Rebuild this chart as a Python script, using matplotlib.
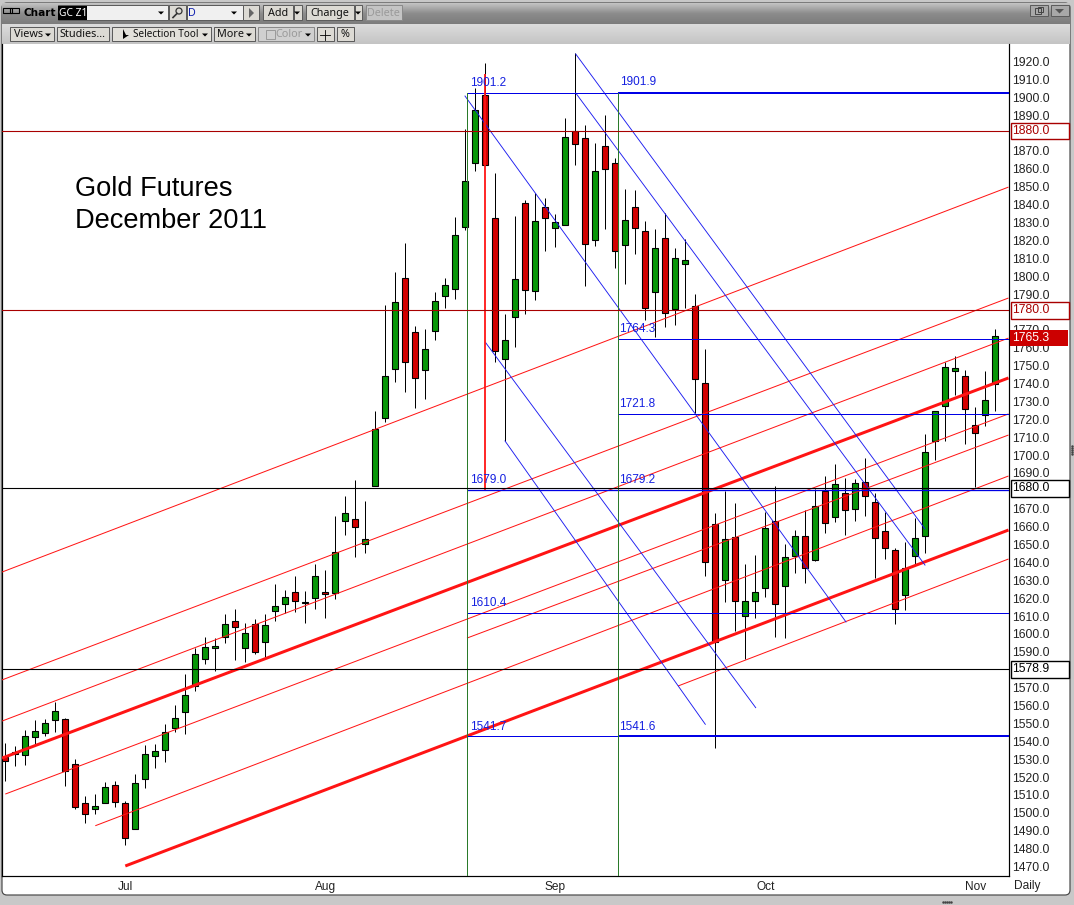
import matplotlib
matplotlib.use('Agg')
import matplotlib.pyplot as plt
from matplotlib.colors import LinearSegmentedColormap
from matplotlib.patches import Rectangle, FancyBboxPatch, Circle
import numpy as np

plt.rcParams['font.family'] = ['Liberation Sans', 'DejaVu Sans']

# daily bars
highs = [1538.9, 1537.4, 1546.3, 1551.9, 1552.5, 1562.2, 1552.9, 1530.1, 1509.5, 1510.6,
         1517.3, 1517.8, 1506.7, 1521.8, 1538.0, 1538.5, 1549.7, 1560.3, 1577.6, 1592.0,
         1598.3, 1597.6, 1611.2, 1614.0, 1606.1, 1608.4, 1611.2, 1628.0, 1624.6, 1632.4,
         1624.0, 1639.1, 1635.8, 1666.0, 1677.1, 1686.1, 1674.4, 1724.7, 1783.9, 1802.3,
         1818.5, 1772.1, 1770.5, 1790.9, 1798.8, 1832.9, 1882.1, 1905.0, 1919.0, 1857.5,
         1778.7, 1833.6, 1842.6, 1846.3, 1843.5, 1834.7, 1888.2, 1924.5, 1884.3, 1874.4,
         1890.1, 1866.0, 1848.5, 1848.0, 1830.9, 1826.4, 1835.1, 1815.6, 1820.6, 1789.9,
         1759.3, 1667.7, 1680.0, 1673.1, 1639.0, 1644.1, 1668.3, 1682.6, 1650.2, 1658.0,
         1669.2, 1681.0, 1688.3, 1695.0, 1687.0, 1686.5, 1698.2, 1679.0, 1668.0, 1648.0,
         1651.2, 1664.7, 1711.6, 1724.4, 1752.2, 1755.4, 1747.6, 1726.9, 1746.8, 1770.5]
lows = [1518.0, 1526.4, 1526.8, 1538.5, 1543.0, 1545.2, 1515.2, 1502.4, 1494.6, 1499.6,
        1505.4, 1503.0, 1482.3, 1490.8, 1514.1, 1525.3, 1528.6, 1545.4, 1544.3, 1568.3,
        1583.0, 1579.1, 1595.2, 1585.5, 1584.3, 1588.6, 1587.0, 1607.5, 1611.6, 1612.0,
        1606.3, 1614.2, 1609.1, 1619.8, 1655.5, 1643.2, 1645.5, 1682.5, 1718.7, 1741.0,
        1735.4, 1726.5, 1731.5, 1764.5, 1782.4, 1787.4, 1825.6, 1859.0, 1862.0, 1752.2,
        1708.0, 1760.6, 1779.0, 1786.9, 1814.2, 1816.5, 1828.4, 1862.1, 1794.7, 1817.0,
        1826.5, 1804.7, 1795.8, 1812.4, 1775.5, 1766.2, 1771.8, 1772.7, 1782.0, 1723.4,
        1632.3, 1536.0, 1618.0, 1601.8, 1586.0, 1609.0, 1620.8, 1598.4, 1597.9, 1634.2,
        1628.6, 1641.0, 1656.6, 1662.8, 1655.4, 1663.3, 1666.2, 1631.1, 1642.1, 1605.5,
        1613.3, 1638.8, 1645.5, 1697.3, 1708.1, 1733.6, 1706.4, 1682.4, 1716.5, 1724.6]
opens = [1531.4, 1532.9, 1532.6, 1542.2, 1544.5, 1551.7, 1552.3, 1527.2, 1505.4, 1502.0,
         1505.4, 1515.4, 1505.4, 1490.8, 1518.8, 1531.6, 1535.0, 1547.3, 1556.2, 1570.7,
         1585.8, 1592.0, 1598.1, 1607.1, 1592.0, 1605.4, 1595.3, 1612.7, 1616.6, 1623.3,
         1617.2, 1620.0, 1623.3, 1623.1, 1663.0, 1664.1, 1650.1, 1682.5, 1720.5, 1747.9,
         1798.8, 1768.6, 1747.4, 1769.2, 1788.7, 1792.6, 1827.3, 1863.0, 1901.1, 1832.3,
         1753.5, 1777.0, 1840.7, 1791.5, 1838.5, 1826.7, 1828.4, 1881.0, 1877.0, 1820.0,
         1872.6, 1863.0, 1817.2, 1838.5, 1825.1, 1791.0, 1821.2, 1781.5, 1806.6, 1783.2,
         1740.1, 1661.2, 1629.9, 1654.0, 1609.8, 1618.7, 1625.5, 1663.3, 1626.9, 1643.5,
         1654.5, 1641.1, 1680.0, 1665.2, 1678.7, 1669.7, 1684.8, 1673.6, 1657.4, 1646.8,
         1621.6, 1643.6, 1654.6, 1707.7, 1727.3, 1746.8, 1744.0, 1716.8, 1722.2, 1739.6]
closes = [1529.2, 1534.2, 1542.8, 1545.6, 1550.1, 1556.8, 1523.2, 1503.5, 1499.2, 1503.7,
          1514.3, 1505.9, 1485.8, 1516.5, 1532.7, 1534.4, 1545.0, 1552.9, 1565.7, 1588.6,
          1592.5, 1593.1, 1605.4, 1603.7, 1600.4, 1589.8, 1604.8, 1615.5, 1620.5, 1618.3,
          1617.9, 1632.2, 1622.2, 1645.7, 1667.5, 1659.6, 1652.9, 1714.6, 1744.0, 1785.4,
          1751.8, 1742.9, 1759.1, 1785.9, 1794.9, 1822.8, 1853.0, 1892.7, 1862.0, 1758.0,
          1764.1, 1798.2, 1792.0, 1830.6, 1832.3, 1830.1, 1877.6, 1873.7, 1817.8, 1858.6,
          1859.7, 1813.9, 1831.2, 1826.8, 1782.0, 1815.6, 1779.3, 1810.0, 1808.9, 1742.4,
          1640.4, 1595.3, 1653.2, 1618.7, 1618.7, 1623.2, 1659.0, 1616.5, 1642.8, 1654.5,
          1636.6, 1671.8, 1661.9, 1683.7, 1669.2, 1684.2, 1677.0, 1653.5, 1647.9, 1613.7,
          1636.7, 1653.5, 1701.5, 1724.4, 1749.1, 1748.5, 1725.6, 1712.2, 1730.6, 1766.4]

price_ticks = list(range(1470, 1930, 10))
boxed_ticks = [1880, 1780, 1680, 1580]
month_bars = [12, 32, 55, 76, 97]
month_labels = ['Jul', 'Aug', 'Sep', 'Oct', 'Nov']

# horizontal levels with their boxes on the price scale
level_prices = [1881.0, 1780.9, 1681.4, 1580.2]
level_labels = ['1880.0', '1780.0', '1680.0', '1578.9']
level_colors = ['#a80000', '#a80000', 'black', 'black']
last_price = 1765.5
last_label = '1765.3'

# red channel: (bar, price, bar, price, width px)
red_lines = [(-0.33, 1634.6, 100.32, 1849.8, 1),
             (-0.33, 1574.3, 100.32, 1787.8, 1),
             (-0.33, 1551.3, 100.32, 1765.4, 1),
             (-0.33, 1530.6, 100.32, 1743.1, 3),
             (0.0, 1510.5, 100.32, 1723.0, 1),
             (46.17, 1597.7, 100.32, 1711.2, 1),
             (9.0, 1492.8, 100.32, 1688.3, 1),
             (12.0, 1470.3, 100.32, 1658.1, 3),
             (67.27, 1570.9, 100.32, 1641.9, 1)]
# blue fans
blue_lines = [(45.97, 1900.7, 84.07, 1606.7),
              (57.04, 1924.2, 91.97, 1658.7),
              (57.04, 1902.4, 91.97, 1638.5),
              (48.04, 1762.8, 75.04, 1558.8),
              (49.97, 1707.9, 70.0, 1549.5)]
# blue retracement levels: (bar from, bar to, price, width px)
blue_levels = [(46.21, 61.22, 1902.3, 1),
               (61.22, 100.32, 1902.3, 2),
               (61.22, 100.32, 1764.6, 1),
               (61.22, 100.32, 1722.7, 1),
               (46.21, 100.32, 1680.4, 1.3),
               (46.21, 100.32, 1611.5, 1),
               (46.21, 61.22, 1542.9, 1),
               (61.22, 100.32, 1542.9, 2)]
blue_label_bars = [46.5, 61.5, 61.4, 61.4, 46.5, 61.4, 46.5, 46.5, 61.4]
blue_label_prices = [1907.8, 1908.3, 1770.3, 1728.3, 1685.9, 1685.9, 1617.3, 1548.2, 1548.2]
blue_label_texts = ['1901.2', '1901.9', '1764.3', '1721.8', '1679.0', '1679.2', '1610.4', '1541.7', '1541.6']

W, H = 1074, 905
px = 72 / 100  # one pixel in points
UI_FONT = ['Noto Sans', 'DejaVu Sans']

fig = plt.figure(figsize=(W / 100, H / 100), dpi=100, facecolor='#c8c8c8')

# window chrome in pixel coordinates
bg = fig.add_axes([0, 0, 1, 1], zorder=0)
bg.axis('off')
bg.add_patch(FancyBboxPatch((2, 3), 1068, 892, boxstyle='round,pad=0,rounding_size=5',
                            fc='white', ec='#4a4a4a', lw=1.2 * px))
grad = np.linspace(0, 1, 64).reshape(-1, 1)
bg.imshow(grad, extent=(2, 1070, 24, 3), aspect='auto', zorder=1,
          cmap=LinearSegmentedColormap.from_list('t', ['#c4c4c4', '#8c8c8c', '#7c7c7c']))
bg.imshow(grad, extent=(2, 1070, 44, 24), aspect='auto', zorder=1,
          cmap=LinearSegmentedColormap.from_list('b', ['#dcdcdc', '#c4c4c4']))
bg.set_xlim(0, W)
bg.set_ylim(H, 0)

bg.text(24, 12.5, 'Chart', fontsize=7.6, fontweight='bold', va='center', zorder=3, family='DejaVu Sans')
bg.add_patch(Rectangle((3, 8.5), 9, 5, fc='none', ec='black', lw=.8, zorder=3))
bg.add_patch(Rectangle((10, 8.5), 9, 5, fc='none', ec='black', lw=.8, zorder=3))

# x0, y0, x1, y1, label, label centre, disabled, fill, font size
widgets = [(57, 5, 168, 21, '', 0, False, '#f0f0f0', 7.8), (168, 5, 186, 21, '', 0, False, '#dcdad4', 7.8),
           (186, 5, 243, 21, '', 0, False, '#f0f0f0', 7.8), (242, 5, 259, 21, '', 0, False, '#dcdad4', 7.8),
           (262, 5, 293, 21, 'Add', 278, False, '#dcdad4', 7.8), (293, 5, 302, 21, '', 0, False, '#dcdad4', 7.8),
           (305, 5, 354, 21, 'Change', 330, False, '#dcdad4', 7.8), (354, 5, 362, 21, '', 0, False, '#dcdad4', 7.8),
           (365, 5, 402, 21, 'Delete', 383, True, '#c4c4c4', 7.8),
           (9, 27, 54, 42, 'Views', 29, False, '#dcdad4', 7.8), (56, 27, 109, 42, 'Studies...', 82, False, '#dcdad4', 7.8),
           (111, 27, 211, 42, 'Selection Tool', 166, False, '#e2e0da', 7.2), (213, 27, 255, 42, 'More', 231, False, '#dcdad4', 7.8),
           (257, 27, 314, 42, 'Color', 289, True, '#d0d0d0', 7.8), (316, 27, 334, 42, '', 0, False, '#dcdad4', 7.8),
           (336, 27, 354, 42, '%', 345, False, '#dcdad4', 7.8),
           (1029, 5, 1048, 17, '', 0, False, '#a8a8a8', 7.8), (1050, 5, 1069, 17, '', 0, False, '#a8a8a8', 7.8)]
for x0, y0, x1, y1, label, cx, dis, fc, fs in widgets:
    bg.add_patch(Rectangle((x0 + .5, y0 + .5), x1 - x0 - 1, y1 - y0 - 1, fc=fc,
                           ec='#8a8a8a' if dis else '#5c5c5c', lw=px, zorder=2))
    if label:
        bg.text(cx, (y0 + y1) / 2 + .3, label, ha='center', va='center', fontsize=fs, zorder=3,
                family=UI_FONT, color='#9a9a9a' if dis else '#111111')
bg.add_patch(Rectangle((58, 6), 29, 14, fc='black', ec='none', zorder=3))
bg.text(59, 13, 'GC Z1', color='white', fontsize=7.4, va='center', zorder=4, family=UI_FONT)
bg.text(188, 13, 'D', color='#1020b0', fontsize=7.8, va='center', zorder=4, family=UI_FONT)
for ax_, ay_ in [(161, 13), (234, 13), (297, 13), (358, 13), (48, 35), (205, 35), (249, 35), (308, 35)]:
    bg.fill([ax_ - 3, ax_ + 3, ax_], [ay_ - 1.5, ay_ - 1.5, ay_ + 1.5], color='black', lw=0, zorder=4)
bg.fill([1055, 1064, 1059.5], [9, 9, 13.5], color='#555555', lw=0, zorder=4)
bg.fill([249, 249, 254], [8, 18, 13], color='#666666', lw=0, zorder=4)
bg.add_patch(Rectangle((1035, 8), 6, 6, fc='none', ec='#444444', lw=.7, zorder=4))
bg.add_patch(Rectangle((1038, 7), 5, 5, fc='none', ec='#444444', lw=.7, zorder=4))
bg.add_patch(Circle((179, 11), 3, fc='none', ec='#333333', lw=.9, zorder=4))
bg.plot([177, 173], [13.5, 17.5], color='#333333', lw=1.2, zorder=4)
bg.fill([123, 123, 129, 126, 127.5], [29, 39, 35, 35, 38], color='black', lw=0, zorder=4)
bg.add_patch(Rectangle((266, 30), 9, 9, fc='none', ec='#9a9a9a', lw=.7, zorder=4))
bg.plot([320, 330], [35, 35], color='black', lw=.6, zorder=4)
bg.plot([325, 325], [30, 40], color='black', lw=.6, zorder=4)
bg.scatter(np.arange(943, 953, 2), [902] * 5, s=.6, color='#444444', zorder=4)
bg.scatter([1072] * 5, np.arange(446, 456, 2), s=.6, color='#444444', zorder=4)
bg.text(1027, 886, 'Daily', fontsize=8.6, ha='center', va='center', color='#222222', zorder=4)

# the chart itself
left, right, top, bottom = 1.5, 1008.5, 44.5, 876.0
ax = fig.add_axes([left / W, 1 - bottom / H, (right - left) / W, (bottom - top) / H], zorder=2)
ax.set_xlim(-0.38, 100.32)
ax.set_ylim(1464.7, 1929.5)
ax.patch.set_alpha(0)
ax.spines['top'].set_visible(False)
for s in ['left', 'right', 'bottom']:
    ax.spines[s].set_linewidth(1.2 * px)

ax.yaxis.tick_right()
ax.set_yticks(price_ticks)
ax.set_yticklabels(['' if p in boxed_ticks else f'{p:.1f}' for p in price_ticks], fontsize=8.7, color='#222222')
ax.set_xticks(month_bars)
ax.set_xticklabels(month_labels, fontsize=8.6, color='#222222')
ax.tick_params(axis='y', length=0, pad=2.6)
ax.tick_params(axis='x', length=0, pad=3.5)

bars = np.arange(len(highs))
body_colors = ['#079607' if c >= o else '#d40000' for o, c in zip(opens, closes)]
wicks = ax.vlines(bars, lows, highs, color='black', lw=px, zorder=2)
wicks.set_snap(True)
ax.bar(bars, np.array(closes) - np.array(opens), bottom=opens, width=0.58, color=body_colors,
       edgecolor='black', linewidth=1.1 * px, zorder=3)

for x0, p0, x1, p1, w in red_lines:
    ax.plot([x0, x1], [p0, p1], color='#ff1414', lw=w * px, zorder=4, solid_capstyle='butt')
for x0, p0, x1, p1 in blue_lines:
    ax.plot([x0, x1], [p0, p1], color='#1c1cf0', lw=.9 * px, zorder=4)
for x0, x1, p, w in blue_levels:
    ax.plot([x0, x1], [p, p], color='#0000e6', lw=w * px, zorder=4, solid_capstyle='butt')
for x, p, t in zip(blue_label_bars, blue_label_prices, blue_label_texts):
    ax.text(x, p, t, color='#1420e0', fontsize=8.5, va='center', zorder=5)

for x in [46.21, 61.22]:
    ax.plot([x, x], [1464.7, 1902.3], color='#2a7a2a', lw=px, zorder=4)
ax.plot([47.97, 47.97], [1680.4, 1913.0], color='#ff1414', lw=1.8 * px, zorder=4, solid_capstyle='butt')

# levels and boxes over the price scale
trans = ax.get_yaxis_transform()
box_x = 1 + 2.5 / (right - left)
box_w = 57.5 / (right - left)
box_h = 4.6
for p, label, color in zip(level_prices, level_labels, level_colors):
    ax.plot([-0.38, 100.32], [p, p], color=color, lw=1.1 * px, zorder=4)
    ax.add_patch(Rectangle((box_x, p - box_h), box_w, 2 * box_h, transform=trans, fc='white', ec=color,
                           lw=1.4 * px, clip_on=False, zorder=6))
    ax.text(box_x + 1.5 / (right - left), p, label, transform=trans, color=color, fontsize=8.7,
            va='center', clip_on=False, zorder=7)
ax.add_patch(Rectangle((1 + 1.5 / (right - left), last_price - 4.4), box_w, 8.8, transform=trans,
                       fc='#cc0000', ec='none', clip_on=False, zorder=6))
ax.text(box_x + 1.5 / (right - left), last_price, last_label, transform=trans, color='white', fontsize=8.7,
        va='center', clip_on=False, zorder=7)

ax.text(6.95, 1848.7, 'Gold Futures', fontsize=19.6, va='center', color='black', zorder=5)
ax.text(6.95, 1830.9, 'December 2011', fontsize=19.6, va='center', color='black', zorder=5)

fig.savefig('out.png', dpi=100, facecolor=fig.get_facecolor())
